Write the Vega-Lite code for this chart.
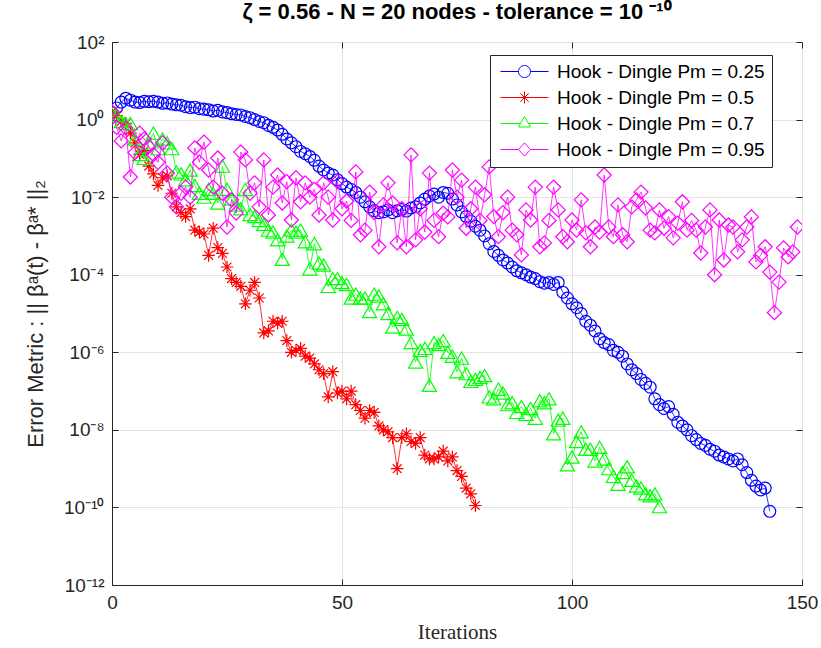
{
"$schema": "https://vega.github.io/schema/vega-lite/v6.json",
"width": 690, "height": 543,
"autosize": {"type": "none"},
"padding": {"left": 112, "top": 42, "right": 19, "bottom": 63},
"background": "white",
"config": {"view": {"stroke": "#262626", "strokeWidth": 1}, "font": "Liberation Sans", "title": {"fontSize": 22, "font": "Liberation Sans", "fontWeight": "bold", "color": "#000000"}},
"title": {"text": "ζ = 0.56 - N = 20 nodes - tolerance = 10 ⁻¹⁰", "fontSize": 22, "fontWeight": "bold", "color": "#000000", "offset": 9, "font": "Liberation Sans"},
"data": {"values": [
{"iteration":0,"error":1.51,"pm":"0.25"},{"iteration":1,"error":2.0,"pm":"0.25"},{"iteration":2,"error":2.82,"pm":"0.25"},{"iteration":3,"error":3.55,"pm":"0.25"},{"iteration":4,"error":3.16,"pm":"0.25"},{"iteration":5,"error":2.82,"pm":"0.25"},{"iteration":6,"error":2.75,"pm":"0.25"},{"iteration":7,"error":2.95,"pm":"0.25"},{"iteration":8,"error":2.88,"pm":"0.25"},{"iteration":9,"error":2.95,"pm":"0.25"},
{"iteration":10,"error":2.82,"pm":"0.25"},{"iteration":11,"error":2.63,"pm":"0.25"},{"iteration":12,"error":2.69,"pm":"0.25"},{"iteration":13,"error":2.51,"pm":"0.25"},{"iteration":14,"error":2.40,"pm":"0.25"},{"iteration":15,"error":2.34,"pm":"0.25"},{"iteration":16,"error":2.14,"pm":"0.25"},{"iteration":17,"error":2.04,"pm":"0.25"},{"iteration":18,"error":2.09,"pm":"0.25"},{"iteration":19,"error":1.91,"pm":"0.25"},
{"iteration":20,"error":1.86,"pm":"0.25"},{"iteration":21,"error":1.78,"pm":"0.25"},{"iteration":22,"error":1.66,"pm":"0.25"},{"iteration":23,"error":1.74,"pm":"0.25"},{"iteration":24,"error":1.58,"pm":"0.25"},{"iteration":25,"error":1.51,"pm":"0.25"},{"iteration":26,"error":1.41,"pm":"0.25"},{"iteration":27,"error":1.35,"pm":"0.25"},{"iteration":28,"error":1.32,"pm":"0.25"},{"iteration":29,"error":1.20,"pm":"0.25"},
{"iteration":30,"error":1.12,"pm":"0.25"},{"iteration":31,"error":1.0,"pm":"0.25"},{"iteration":32,"error":0.891,"pm":"0.25"},{"iteration":33,"error":0.832,"pm":"0.25"},{"iteration":34,"error":0.708,"pm":"0.25"},{"iteration":35,"error":0.631,"pm":"0.25"},{"iteration":36,"error":0.537,"pm":"0.25"},{"iteration":37,"error":0.417,"pm":"0.25"},{"iteration":38,"error":0.316,"pm":"0.25"},{"iteration":39,"error":0.251,"pm":"0.25"},
{"iteration":40,"error":0.2,"pm":"0.25"},{"iteration":41,"error":0.151,"pm":"0.25"},{"iteration":42,"error":0.132,"pm":"0.25"},{"iteration":43,"error":0.112,"pm":"0.25"},{"iteration":44,"error":0.0891,"pm":"0.25"},{"iteration":45,"error":0.0631,"pm":"0.25"},{"iteration":46,"error":0.0501,"pm":"0.25"},{"iteration":47,"error":0.0417,"pm":"0.25"},{"iteration":48,"error":0.0372,"pm":"0.25"},{"iteration":49,"error":0.0282,"pm":"0.25"},
{"iteration":50,"error":0.0224,"pm":"0.25"},{"iteration":51,"error":0.0182,"pm":"0.25"},{"iteration":52,"error":0.0158,"pm":"0.25"},{"iteration":53,"error":0.0132,"pm":"0.25"},{"iteration":54,"error":0.01,"pm":"0.25"},{"iteration":55,"error":0.00759,"pm":"0.25"},{"iteration":56,"error":0.00562,"pm":"0.25"},{"iteration":57,"error":0.00447,"pm":"0.25"},{"iteration":58,"error":0.00398,"pm":"0.25"},{"iteration":59,"error":0.00417,"pm":"0.25"},
{"iteration":60,"error":0.00468,"pm":"0.25"},{"iteration":61,"error":0.00398,"pm":"0.25"},{"iteration":62,"error":0.00447,"pm":"0.25"},{"iteration":63,"error":0.00479,"pm":"0.25"},{"iteration":64,"error":0.00437,"pm":"0.25"},{"iteration":65,"error":0.00525,"pm":"0.25"},{"iteration":66,"error":0.00562,"pm":"0.25"},{"iteration":67,"error":0.00708,"pm":"0.25"},{"iteration":68,"error":0.00891,"pm":"0.25"},{"iteration":69,"error":0.0107,"pm":"0.25"},
{"iteration":70,"error":0.012,"pm":"0.25"},{"iteration":71,"error":0.01,"pm":"0.25"},{"iteration":72,"error":0.0132,"pm":"0.25"},{"iteration":73,"error":0.0126,"pm":"0.25"},{"iteration":74,"error":0.00891,"pm":"0.25"},{"iteration":75,"error":0.00631,"pm":"0.25"},{"iteration":76,"error":0.00417,"pm":"0.25"},{"iteration":77,"error":0.00316,"pm":"0.25"},{"iteration":78,"error":0.0024,"pm":"0.25"},{"iteration":79,"error":0.00178,"pm":"0.25"},
{"iteration":80,"error":0.00141,"pm":"0.25"},{"iteration":81,"error":0.001,"pm":"0.25"},{"iteration":82,"error":6.31e-4,"pm":"0.25"},{"iteration":83,"error":3.98e-4,"pm":"0.25"},{"iteration":84,"error":3.16e-4,"pm":"0.25"},{"iteration":85,"error":2.4e-4,"pm":"0.25"},{"iteration":86,"error":2.0e-4,"pm":"0.25"},{"iteration":87,"error":1.58e-4,"pm":"0.25"},{"iteration":88,"error":1.26e-4,"pm":"0.25"},{"iteration":89,"error":1.12e-4,"pm":"0.25"},
{"iteration":90,"error":1e-4,"pm":"0.25"},{"iteration":91,"error":8.71e-5,"pm":"0.25"},{"iteration":92,"error":7.94e-5,"pm":"0.25"},{"iteration":93,"error":6.61e-5,"pm":"0.25"},{"iteration":94,"error":6.03e-5,"pm":"0.25"},{"iteration":95,"error":6.31e-5,"pm":"0.25"},{"iteration":96,"error":5.62e-5,"pm":"0.25"},{"iteration":97,"error":6.31e-5,"pm":"0.25"},{"iteration":98,"error":3.55e-5,"pm":"0.25"},{"iteration":99,"error":2.51e-5,"pm":"0.25"},
{"iteration":100,"error":1.78e-5,"pm":"0.25"},{"iteration":101,"error":1.41e-5,"pm":"0.25"},{"iteration":102,"error":1e-5,"pm":"0.25"},{"iteration":103,"error":6.31e-6,"pm":"0.25"},{"iteration":104,"error":5.01e-6,"pm":"0.25"},{"iteration":105,"error":3.55e-6,"pm":"0.25"},{"iteration":106,"error":2.24e-6,"pm":"0.25"},{"iteration":107,"error":1.78e-6,"pm":"0.25"},{"iteration":108,"error":1.58e-6,"pm":"0.25"},{"iteration":109,"error":1.12e-6,"pm":"0.25"},
{"iteration":110,"error":1e-6,"pm":"0.25"},{"iteration":111,"error":7.94e-7,"pm":"0.25"},{"iteration":112,"error":5.01e-7,"pm":"0.25"},{"iteration":113,"error":3.55e-7,"pm":"0.25"},{"iteration":114,"error":2.82e-7,"pm":"0.25"},{"iteration":115,"error":2.0e-7,"pm":"0.25"},{"iteration":116,"error":1.58e-7,"pm":"0.25"},{"iteration":117,"error":1.26e-7,"pm":"0.25"},{"iteration":118,"error":6.31e-8,"pm":"0.25"},{"iteration":119,"error":4.47e-8,"pm":"0.25"},
{"iteration":120,"error":3.55e-8,"pm":"0.25"},{"iteration":121,"error":3.98e-8,"pm":"0.25"},{"iteration":122,"error":2.51e-8,"pm":"0.25"},{"iteration":123,"error":1.58e-8,"pm":"0.25"},{"iteration":124,"error":1.26e-8,"pm":"0.25"},{"iteration":125,"error":1e-8,"pm":"0.25"},{"iteration":126,"error":7.08e-9,"pm":"0.25"},{"iteration":127,"error":5.62e-9,"pm":"0.25"},{"iteration":128,"error":4.47e-9,"pm":"0.25"},{"iteration":129,"error":3.98e-9,"pm":"0.25"},
{"iteration":130,"error":3.16e-9,"pm":"0.25"},{"iteration":131,"error":2.82e-9,"pm":"0.25"},{"iteration":132,"error":2.24e-9,"pm":"0.25"},{"iteration":133,"error":2.0e-9,"pm":"0.25"},{"iteration":134,"error":1.78e-9,"pm":"0.25"},{"iteration":135,"error":1.58e-9,"pm":"0.25"},{"iteration":136,"error":1.78e-9,"pm":"0.25"},{"iteration":137,"error":1.26e-9,"pm":"0.25"},{"iteration":138,"error":7.94e-10,"pm":"0.25"},{"iteration":139,"error":5.01e-10,"pm":"0.25"},
{"iteration":140,"error":3.55e-10,"pm":"0.25"},{"iteration":141,"error":2.82e-10,"pm":"0.25"},{"iteration":142,"error":3.16e-10,"pm":"0.25"},{"iteration":143,"error":7.94e-11,"pm":"0.25"},
{"iteration":0,"error":1.58,"pm":"0.5"},{"iteration":1,"error":1.26,"pm":"0.5"},{"iteration":2,"error":0.891,"pm":"0.5"},{"iteration":3,"error":0.794,"pm":"0.5"},{"iteration":4,"error":0.447,"pm":"0.5"},{"iteration":5,"error":0.251,"pm":"0.5"},{"iteration":6,"error":0.126,"pm":"0.5"},{"iteration":7,"error":0.158,"pm":"0.5"},{"iteration":8,"error":0.0631,"pm":"0.5"},{"iteration":9,"error":0.0398,"pm":"0.5"},
{"iteration":10,"error":0.02,"pm":"0.5"},{"iteration":11,"error":0.0316,"pm":"0.5"},{"iteration":12,"error":0.0355,"pm":"0.5"},{"iteration":13,"error":0.0126,"pm":"0.5"},{"iteration":14,"error":0.00562,"pm":"0.5"},{"iteration":15,"error":0.00398,"pm":"0.5"},{"iteration":16,"error":0.00316,"pm":"0.5"},{"iteration":17,"error":0.00501,"pm":"0.5"},{"iteration":18,"error":0.00141,"pm":"0.5"},{"iteration":19,"error":0.00126,"pm":"0.5"},
{"iteration":20,"error":0.00112,"pm":"0.5"},{"iteration":21,"error":3.16e-4,"pm":"0.5"},{"iteration":22,"error":0.00158,"pm":"0.5"},{"iteration":23,"error":5.01e-4,"pm":"0.5"},{"iteration":24,"error":3.55e-4,"pm":"0.5"},{"iteration":25,"error":1.58e-4,"pm":"0.5"},{"iteration":26,"error":7.94e-5,"pm":"0.5"},{"iteration":27,"error":6.31e-5,"pm":"0.5"},{"iteration":28,"error":5.01e-5,"pm":"0.5"},{"iteration":29,"error":1.78e-5,"pm":"0.5"},
{"iteration":30,"error":3.98e-5,"pm":"0.5"},{"iteration":31,"error":6.31e-5,"pm":"0.5"},{"iteration":32,"error":2.51e-5,"pm":"0.5"},{"iteration":33,"error":3.16e-6,"pm":"0.5"},{"iteration":34,"error":3.55e-6,"pm":"0.5"},{"iteration":35,"error":6.31e-6,"pm":"0.5"},{"iteration":36,"error":5.62e-6,"pm":"0.5"},{"iteration":37,"error":6.31e-6,"pm":"0.5"},{"iteration":38,"error":2.0e-6,"pm":"0.5"},{"iteration":39,"error":1e-6,"pm":"0.5"},
{"iteration":40,"error":1.12e-6,"pm":"0.5"},{"iteration":41,"error":1.26e-6,"pm":"0.5"},{"iteration":42,"error":7.94e-7,"pm":"0.5"},{"iteration":43,"error":7.08e-7,"pm":"0.5"},{"iteration":44,"error":5.01e-7,"pm":"0.5"},{"iteration":45,"error":3.55e-7,"pm":"0.5"},{"iteration":46,"error":2.82e-7,"pm":"0.5"},{"iteration":47,"error":7.08e-8,"pm":"0.5"},{"iteration":48,"error":3.16e-7,"pm":"0.5"},{"iteration":49,"error":8.91e-8,"pm":"0.5"},
{"iteration":50,"error":1e-7,"pm":"0.5"},{"iteration":51,"error":6.31e-8,"pm":"0.5"},{"iteration":52,"error":1e-7,"pm":"0.5"},{"iteration":53,"error":4.47e-8,"pm":"0.5"},{"iteration":54,"error":3.16e-8,"pm":"0.5"},{"iteration":55,"error":2.0e-8,"pm":"0.5"},{"iteration":56,"error":3.16e-8,"pm":"0.5"},{"iteration":57,"error":2.82e-8,"pm":"0.5"},{"iteration":58,"error":1.26e-8,"pm":"0.5"},{"iteration":59,"error":1e-8,"pm":"0.5"},
{"iteration":60,"error":8.91e-9,"pm":"0.5"},{"iteration":61,"error":6.31e-9,"pm":"0.5"},{"iteration":62,"error":1e-9,"pm":"0.5"},{"iteration":63,"error":6.31e-9,"pm":"0.5"},{"iteration":64,"error":7.94e-9,"pm":"0.5"},{"iteration":65,"error":5.01e-9,"pm":"0.5"},{"iteration":66,"error":4.47e-9,"pm":"0.5"},{"iteration":67,"error":6.31e-9,"pm":"0.5"},{"iteration":68,"error":2.24e-9,"pm":"0.5"},{"iteration":69,"error":1.78e-9,"pm":"0.5"},
{"iteration":70,"error":1.78e-9,"pm":"0.5"},{"iteration":71,"error":2.0e-9,"pm":"0.5"},{"iteration":72,"error":2.82e-9,"pm":"0.5"},{"iteration":73,"error":1.58e-9,"pm":"0.5"},{"iteration":74,"error":2.0e-9,"pm":"0.5"},{"iteration":75,"error":8.91e-10,"pm":"0.5"},{"iteration":76,"error":6.31e-10,"pm":"0.5"},{"iteration":77,"error":3.16e-10,"pm":"0.5"},{"iteration":78,"error":2.24e-10,"pm":"0.5"},{"iteration":79,"error":1.12e-10,"pm":"0.5"},
{"iteration":0,"error":1.41,"pm":"0.7"},{"iteration":1,"error":1.26,"pm":"0.7"},{"iteration":2,"error":0.891,"pm":"0.7"},{"iteration":3,"error":0.794,"pm":"0.7"},{"iteration":4,"error":0.794,"pm":"0.7"},{"iteration":5,"error":0.316,"pm":"0.7"},{"iteration":6,"error":0.126,"pm":"0.7"},{"iteration":7,"error":0.1,"pm":"0.7"},{"iteration":8,"error":0.251,"pm":"0.7"},{"iteration":9,"error":0.447,"pm":"0.7"},
{"iteration":10,"error":0.178,"pm":"0.7"},{"iteration":11,"error":0.316,"pm":"0.7"},{"iteration":12,"error":0.251,"pm":"0.7"},{"iteration":13,"error":0.178,"pm":"0.7"},{"iteration":14,"error":0.0447,"pm":"0.7"},{"iteration":15,"error":0.0398,"pm":"0.7"},{"iteration":16,"error":0.0282,"pm":"0.7"},{"iteration":17,"error":0.0501,"pm":"0.7"},{"iteration":18,"error":0.02,"pm":"0.7"},{"iteration":19,"error":0.0126,"pm":"0.7"},
{"iteration":20,"error":0.01,"pm":"0.7"},{"iteration":21,"error":0.0158,"pm":"0.7"},{"iteration":22,"error":0.0126,"pm":"0.7"},{"iteration":23,"error":0.00708,"pm":"0.7"},{"iteration":24,"error":0.0631,"pm":"0.7"},{"iteration":25,"error":0.0158,"pm":"0.7"},{"iteration":26,"error":0.00891,"pm":"0.7"},{"iteration":27,"error":0.00631,"pm":"0.7"},{"iteration":28,"error":0.00501,"pm":"0.7"},{"iteration":29,"error":0.0158,"pm":"0.7"},
{"iteration":30,"error":0.00355,"pm":"0.7"},{"iteration":31,"error":0.00316,"pm":"0.7"},{"iteration":32,"error":0.00251,"pm":"0.7"},{"iteration":33,"error":0.002,"pm":"0.7"},{"iteration":34,"error":0.00141,"pm":"0.7"},{"iteration":35,"error":0.00126,"pm":"0.7"},{"iteration":36,"error":7.94e-4,"pm":"0.7"},{"iteration":37,"error":2.51e-4,"pm":"0.7"},{"iteration":38,"error":1e-3,"pm":"0.7"},{"iteration":39,"error":0.00141,"pm":"0.7"},
{"iteration":40,"error":0.00126,"pm":"0.7"},{"iteration":41,"error":0.00141,"pm":"0.7"},{"iteration":42,"error":7.08e-4,"pm":"0.7"},{"iteration":43,"error":1.41e-4,"pm":"0.7"},{"iteration":44,"error":6.31e-4,"pm":"0.7"},{"iteration":45,"error":2.0e-4,"pm":"0.7"},{"iteration":46,"error":1.78e-4,"pm":"0.7"},{"iteration":47,"error":5.01e-5,"pm":"0.7"},{"iteration":48,"error":7.94e-5,"pm":"0.7"},{"iteration":49,"error":7.94e-5,"pm":"0.7"},
{"iteration":50,"error":6.31e-5,"pm":"0.7"},{"iteration":51,"error":5.62e-5,"pm":"0.7"},{"iteration":52,"error":2.51e-5,"pm":"0.7"},{"iteration":53,"error":3.16e-5,"pm":"0.7"},{"iteration":54,"error":2.51e-5,"pm":"0.7"},{"iteration":55,"error":2.51e-5,"pm":"0.7"},{"iteration":56,"error":1.12e-5,"pm":"0.7"},{"iteration":57,"error":3.16e-5,"pm":"0.7"},{"iteration":58,"error":2.82e-5,"pm":"0.7"},{"iteration":59,"error":1.78e-5,"pm":"0.7"},
{"iteration":60,"error":1e-5,"pm":"0.7"},{"iteration":61,"error":4.47e-6,"pm":"0.7"},{"iteration":62,"error":7.94e-6,"pm":"0.7"},{"iteration":63,"error":7.08e-6,"pm":"0.7"},{"iteration":64,"error":3.98e-6,"pm":"0.7"},{"iteration":65,"error":1.78e-6,"pm":"0.7"},{"iteration":66,"error":5.62e-7,"pm":"0.7"},{"iteration":67,"error":1.12e-6,"pm":"0.7"},{"iteration":68,"error":1.26e-6,"pm":"0.7"},{"iteration":69,"error":1.41e-7,"pm":"0.7"},
{"iteration":70,"error":1.78e-6,"pm":"0.7"},{"iteration":71,"error":1.58e-6,"pm":"0.7"},{"iteration":72,"error":2.0e-6,"pm":"0.7"},{"iteration":73,"error":1e-6,"pm":"0.7"},{"iteration":74,"error":7.94e-7,"pm":"0.7"},{"iteration":75,"error":3.16e-7,"pm":"0.7"},{"iteration":76,"error":7.08e-7,"pm":"0.7"},{"iteration":77,"error":2.82e-7,"pm":"0.7"},{"iteration":78,"error":1.78e-7,"pm":"0.7"},{"iteration":79,"error":2.0e-7,"pm":"0.7"},
{"iteration":80,"error":2.24e-7,"pm":"0.7"},{"iteration":81,"error":2.51e-7,"pm":"0.7"},{"iteration":82,"error":7.08e-8,"pm":"0.7"},{"iteration":83,"error":6.31e-8,"pm":"0.7"},{"iteration":84,"error":1.12e-7,"pm":"0.7"},{"iteration":85,"error":8.91e-8,"pm":"0.7"},{"iteration":86,"error":4.47e-8,"pm":"0.7"},{"iteration":87,"error":5.01e-8,"pm":"0.7"},{"iteration":88,"error":2.82e-8,"pm":"0.7"},{"iteration":89,"error":3.98e-8,"pm":"0.7"},
{"iteration":90,"error":2.51e-8,"pm":"0.7"},{"iteration":91,"error":3.55e-8,"pm":"0.7"},{"iteration":92,"error":2.0e-8,"pm":"0.7"},{"iteration":93,"error":5.62e-8,"pm":"0.7"},{"iteration":94,"error":5.01e-8,"pm":"0.7"},{"iteration":95,"error":6.31e-8,"pm":"0.7"},{"iteration":96,"error":7.94e-9,"pm":"0.7"},{"iteration":97,"error":1.78e-8,"pm":"0.7"},{"iteration":98,"error":2.0e-8,"pm":"0.7"},{"iteration":99,"error":1.26e-9,"pm":"0.7"},
{"iteration":100,"error":2.0e-9,"pm":"0.7"},{"iteration":101,"error":5.01e-9,"pm":"0.7"},{"iteration":102,"error":8.91e-9,"pm":"0.7"},{"iteration":103,"error":3.16e-9,"pm":"0.7"},{"iteration":104,"error":3.16e-9,"pm":"0.7"},{"iteration":105,"error":1.58e-9,"pm":"0.7"},{"iteration":106,"error":3.55e-9,"pm":"0.7"},{"iteration":107,"error":1.78e-9,"pm":"0.7"},{"iteration":108,"error":1e-9,"pm":"0.7"},{"iteration":109,"error":6.31e-10,"pm":"0.7"},
{"iteration":110,"error":3.98e-10,"pm":"0.7"},{"iteration":111,"error":7.94e-10,"pm":"0.7"},{"iteration":112,"error":1.12e-9,"pm":"0.7"},{"iteration":113,"error":5.01e-10,"pm":"0.7"},{"iteration":114,"error":3.55e-10,"pm":"0.7"},{"iteration":115,"error":3.16e-10,"pm":"0.7"},{"iteration":116,"error":2.24e-10,"pm":"0.7"},{"iteration":117,"error":2.0e-10,"pm":"0.7"},{"iteration":118,"error":2.24e-10,"pm":"0.7"},{"iteration":119,"error":1.05e-10,"pm":"0.7"},
{"iteration":0,"error":1.58,"pm":"0.95"},{"iteration":1,"error":0.631,"pm":"0.95"},{"iteration":2,"error":0.282,"pm":"0.95"},{"iteration":3,"error":0.603,"pm":"0.95"},{"iteration":4,"error":0.0331,"pm":"0.95"},{"iteration":5,"error":0.141,"pm":"0.95"},{"iteration":6,"error":0.447,"pm":"0.95"},{"iteration":7,"error":0.316,"pm":"0.95"},{"iteration":8,"error":0.2,"pm":"0.95"},{"iteration":9,"error":0.126,"pm":"0.95"},
{"iteration":10,"error":0.0794,"pm":"0.95"},{"iteration":11,"error":0.251,"pm":"0.95"},{"iteration":12,"error":0.0417,"pm":"0.95"},{"iteration":13,"error":0.01,"pm":"0.95"},{"iteration":14,"error":0.00562,"pm":"0.95"},{"iteration":15,"error":0.0126,"pm":"0.95"},{"iteration":16,"error":0.0182,"pm":"0.95"},{"iteration":17,"error":0.01,"pm":"0.95"},{"iteration":18,"error":0.186,"pm":"0.95"},{"iteration":19,"error":0.0794,"pm":"0.95"},
{"iteration":20,"error":0.263,"pm":"0.95"},{"iteration":21,"error":0.0501,"pm":"0.95"},{"iteration":22,"error":0.0182,"pm":"0.95"},{"iteration":23,"error":0.102,"pm":"0.95"},{"iteration":24,"error":0.0126,"pm":"0.95"},{"iteration":25,"error":0.0017,"pm":"0.95"},{"iteration":26,"error":0.00851,"pm":"0.95"},{"iteration":27,"error":0.00389,"pm":"0.95"},{"iteration":28,"error":0.145,"pm":"0.95"},{"iteration":29,"error":0.0912,"pm":"0.95"},
{"iteration":30,"error":0.0126,"pm":"0.95"},{"iteration":31,"error":0.0234,"pm":"0.95"},{"iteration":32,"error":0.00562,"pm":"0.95"},{"iteration":33,"error":0.0912,"pm":"0.95"},{"iteration":34,"error":0.00347,"pm":"0.95"},{"iteration":35,"error":0.0182,"pm":"0.95"},{"iteration":36,"error":0.0372,"pm":"0.95"},{"iteration":37,"error":0.00708,"pm":"0.95"},{"iteration":38,"error":0.0251,"pm":"0.95"},{"iteration":39,"error":0.00257,"pm":"0.95"},
{"iteration":40,"error":0.0316,"pm":"0.95"},{"iteration":41,"error":0.00759,"pm":"0.95"},{"iteration":42,"error":0.0234,"pm":"0.95"},{"iteration":43,"error":0.01,"pm":"0.95"},{"iteration":44,"error":0.0158,"pm":"0.95"},{"iteration":45,"error":0.00347,"pm":"0.95"},{"iteration":46,"error":0.0234,"pm":"0.95"},{"iteration":47,"error":0.01,"pm":"0.95"},{"iteration":48,"error":0.00257,"pm":"0.95"},{"iteration":49,"error":0.0251,"pm":"0.95"},
{"iteration":50,"error":0.00501,"pm":"0.95"},{"iteration":51,"error":0.00794,"pm":"0.95"},{"iteration":52,"error":0.00251,"pm":"0.95"},{"iteration":53,"error":0.0447,"pm":"0.95"},{"iteration":54,"error":0.00107,"pm":"0.95"},{"iteration":55,"error":0.00141,"pm":"0.95"},{"iteration":56,"error":0.0135,"pm":"0.95"},{"iteration":57,"error":0.00398,"pm":"0.95"},{"iteration":58,"error":5.25e-4,"pm":"0.95"},{"iteration":59,"error":0.00631,"pm":"0.95"},
{"iteration":60,"error":0.0234,"pm":"0.95"},{"iteration":61,"error":0.00708,"pm":"0.95"},{"iteration":62,"error":6.61e-4,"pm":"0.95"},{"iteration":63,"error":0.00501,"pm":"0.95"},{"iteration":64,"error":5.25e-4,"pm":"0.95"},{"iteration":65,"error":0.123,"pm":"0.95"},{"iteration":66,"error":7.94e-4,"pm":"0.95"},{"iteration":67,"error":0.00501,"pm":"0.95"},{"iteration":68,"error":0.00126,"pm":"0.95"},{"iteration":69,"error":0.0417,"pm":"0.95"},
{"iteration":70,"error":0.00251,"pm":"0.95"},{"iteration":71,"error":9.55e-4,"pm":"0.95"},{"iteration":72,"error":0.00389,"pm":"0.95"},{"iteration":73,"error":0.00309,"pm":"0.95"},{"iteration":74,"error":0.0501,"pm":"0.95"},{"iteration":75,"error":0.01,"pm":"0.95"},{"iteration":76,"error":0.0275,"pm":"0.95"},{"iteration":77,"error":0.00158,"pm":"0.95"},{"iteration":78,"error":0.00501,"pm":"0.95"},{"iteration":79,"error":0.0182,"pm":"0.95"},
{"iteration":80,"error":0.00251,"pm":"0.95"},{"iteration":81,"error":0.0115,"pm":"0.95"},{"iteration":82,"error":0.0603,"pm":"0.95"},{"iteration":83,"error":0.00316,"pm":"0.95"},{"iteration":84,"error":9.55e-4,"pm":"0.95"},{"iteration":85,"error":0.00398,"pm":"0.95"},{"iteration":86,"error":0.01,"pm":"0.95"},{"iteration":87,"error":0.00141,"pm":"0.95"},{"iteration":88,"error":0.00107,"pm":"0.95"},{"iteration":89,"error":3.24e-4,"pm":"0.95"},
{"iteration":90,"error":0.00468,"pm":"0.95"},{"iteration":91,"error":0.00257,"pm":"0.95"},{"iteration":92,"error":0.0182,"pm":"0.95"},{"iteration":93,"error":5.25e-4,"pm":"0.95"},{"iteration":94,"error":6.61e-4,"pm":"0.95"},{"iteration":95,"error":0.00251,"pm":"0.95"},{"iteration":96,"error":0.0182,"pm":"0.95"},{"iteration":97,"error":0.00468,"pm":"0.95"},{"iteration":98,"error":9.55e-4,"pm":"0.95"},{"iteration":99,"error":7.08e-4,"pm":"0.95"},
{"iteration":100,"error":0.00257,"pm":"0.95"},{"iteration":101,"error":0.00141,"pm":"0.95"},{"iteration":102,"error":0.00851,"pm":"0.95"},{"iteration":103,"error":0.0012,"pm":"0.95"},{"iteration":104,"error":5.25e-4,"pm":"0.95"},{"iteration":105,"error":0.0017,"pm":"0.95"},{"iteration":106,"error":0.00126,"pm":"0.95"},{"iteration":107,"error":0.0372,"pm":"0.95"},{"iteration":108,"error":0.0017,"pm":"0.95"},{"iteration":109,"error":9.55e-4,"pm":"0.95"},
{"iteration":110,"error":0.00631,"pm":"0.95"},{"iteration":111,"error":0.00107,"pm":"0.95"},{"iteration":112,"error":7.08e-4,"pm":"0.95"},{"iteration":113,"error":0.00562,"pm":"0.95"},{"iteration":114,"error":0.00851,"pm":"0.95"},{"iteration":115,"error":0.0135,"pm":"0.95"},{"iteration":116,"error":0.00525,"pm":"0.95"},{"iteration":117,"error":0.00141,"pm":"0.95"},{"iteration":118,"error":0.0012,"pm":"0.95"},{"iteration":119,"error":0.00468,"pm":"0.95"},
{"iteration":120,"error":0.00158,"pm":"0.95"},{"iteration":121,"error":0.00316,"pm":"0.95"},{"iteration":122,"error":8.91e-4,"pm":"0.95"},{"iteration":123,"error":0.00214,"pm":"0.95"},{"iteration":124,"error":0.00759,"pm":"0.95"},{"iteration":125,"error":0.00141,"pm":"0.95"},{"iteration":126,"error":0.00251,"pm":"0.95"},{"iteration":127,"error":0.00141,"pm":"0.95"},{"iteration":128,"error":3.63e-4,"pm":"0.95"},{"iteration":129,"error":0.0017,"pm":"0.95"},
{"iteration":130,"error":0.00468,"pm":"0.95"},{"iteration":131,"error":1e-4,"pm":"0.95"},{"iteration":132,"error":0.00257,"pm":"0.95"},{"iteration":133,"error":2.4e-4,"pm":"0.95"},{"iteration":134,"error":0.00191,"pm":"0.95"},{"iteration":135,"error":0.0017,"pm":"0.95"},{"iteration":136,"error":3.89e-4,"pm":"0.95"},{"iteration":137,"error":7.94e-4,"pm":"0.95"},{"iteration":138,"error":0.0017,"pm":"0.95"},{"iteration":139,"error":0.00309,"pm":"0.95"},
{"iteration":140,"error":2.14e-4,"pm":"0.95"},{"iteration":141,"error":3.16e-4,"pm":"0.95"},{"iteration":142,"error":5.25e-4,"pm":"0.95"},{"iteration":143,"error":1.17e-4,"pm":"0.95"},{"iteration":144,"error":1.05e-5,"pm":"0.95"},{"iteration":145,"error":6.46e-5,"pm":"0.95"},{"iteration":146,"error":4.9e-4,"pm":"0.95"},{"iteration":147,"error":2.88e-4,"pm":"0.95"},{"iteration":148,"error":3.89e-4,"pm":"0.95"},{"iteration":149,"error":0.0017,"pm":"0.95"}
]},
"layer": [
 {
  "encoding": {
    "x": {"field": "iteration", "type": "quantitative",
          "scale": {"domain": [0, 150], "nice": false, "zero": false},
          "axis": {"values": [0, 50, 100, 150], "title": "Iterations", "titleFont": "Liberation Serif", "titleFontSize": 21, "titleFontWeight": "normal", "titleColor": "#262626", "titlePadding": 9,
                   "labelFont": "Liberation Sans", "labelFontSize": 19, "labelColor": "#262626", "labelPadding": 14, "labelFlush": false,
                   "grid": true, "gridColor": "#e3e3e3", "gridWidth": 1, "domainColor": "#262626", "tickColor": "#262626", "tickSize": -6}},
    "y": {"field": "error", "type": "quantitative",
          "scale": {"type": "log", "domain": [1e-12, 100], "nice": false},
          "axis": {"values": [1e-12, 1e-10, 1e-8, 1e-6, 1e-4, 0.01, 1, 100],
                   "labelExpr": "datum.value >= 99 ? '10²' : datum.value >= 0.99 ? '10⁰' : datum.value >= 0.0099 ? '10⁻²' : datum.value >= 9.9e-5 ? '10⁻⁴' : datum.value >= 9.9e-7 ? '10⁻⁶' : datum.value >= 9.9e-9 ? '10⁻⁸' : datum.value >= 9.9e-11 ? '10⁻¹⁰' : '10⁻¹²'",
                   "title": "Error Metric : || βᵃ(t) - βᵃ* ||₂", "titleFont": "Liberation Sans", "titleFontSize": 22, "titleFontWeight": "normal", "titleColor": "#262626", "titlePadding": 16,
                   "labelFont": "Liberation Sans", "labelFontSize": 19, "labelColor": "#262626", "labelPadding": 14, "labelFlush": false,
                   "grid": true, "gridColor": "#e3e3e3", "gridWidth": 1, "domainColor": "#262626", "tickColor": "#262626", "tickSize": -6}},
    "color": {"field": "pm", "type": "nominal",
              "scale": {"domain": ["0.25", "0.5", "0.7", "0.95"], "range": ["#0000ff", "#ff0000", "#00ff00", "#ff00ff"]},
              "legend": {"orient": "none", "legendX": 378, "legendY": 13, "title": null, "strokeColor": "#262626", "fillColor": "white", "padding": 7,
                         "labelFont": "Liberation Sans", "labelFontSize": 19, "labelColor": "#000000", "labelLimit": 400, "labelExpr": "'Hook - Dingle Pm = ' + datum.label + '  '",
                         "symbolSize": 144, "symbolStrokeWidth": 1, "rowPadding": 6, "symbolOffset": 18, "labelOffset": 23,
                         "encode": {"symbols": {"update": {
                            "fill": {"value": "transparent"},
                            "shape": {"signal": "datum.value === '0.25' ? 'M-4,0L-1,0M1,0L4,0M-1,0A1,1 0 1,1 1,0A1,1 0 1,1 -1,0' : datum.value === '0.5' ? 'M-4,0L4,0M0,-1L0,1M-0.7,-0.7L0.7,0.7M-0.7,0.7L0.7,-0.7' : datum.value === '0.7' ? 'M-4,0L-0.6,0M0.6,0L4,0M0,-1.15L-1,0.58L1,0.58Z' : 'M-4,0L-1,0M1,0L4,0M-1,0L0,-1.1L1,0L0,1.1Z'"}
                         }}}}}
  },
  "layer": [
    {"transform": [{"filter": "datum.pm === '0.25'"}], "mark": {"type": "line", "strokeWidth": 0.8, "clip": true, "point": {"shape": "circle", "filled": false, "size": 140, "strokeWidth": 1.2}}},
    {"transform": [{"filter": "datum.pm === '0.5'"}], "mark": {"type": "line", "strokeWidth": 0.8, "clip": true, "point": {"shape": "M0,-1L0,1M-1,0L1,0M-0.7,-0.7L0.7,0.7M-0.7,0.7L0.7,-0.7", "filled": false, "size": 160, "strokeWidth": 1.2}}},
    {"transform": [{"filter": "datum.pm === '0.7'"}], "mark": {"type": "line", "strokeWidth": 0.8, "clip": true, "point": {"shape": "triangle-up", "filled": false, "size": 200, "strokeWidth": 1.2}}},
    {"transform": [{"filter": "datum.pm === '0.95'"}], "mark": {"type": "line", "strokeWidth": 0.8, "clip": true, "point": {"shape": "diamond", "filled": false, "size": 200, "strokeWidth": 1.2}}}
  ]
 },
 {
  "mark": {"type": "point", "opacity": 0},
  "encoding": {
    "x": {"field": "iteration", "type": "quantitative", "scale": {"domain": [0, 150], "nice": false, "zero": false},
          "axis": {"orient": "top", "values": [0, 50, 100, 150], "labels": false, "title": null, "grid": false, "domain": false, "tickColor": "#262626", "tickSize": -6}},
    "y": {"field": "error", "type": "quantitative", "scale": {"type": "log", "domain": [1e-12, 100], "nice": false},
          "axis": {"orient": "right", "values": [1e-12, 1e-10, 1e-8, 1e-6, 1e-4, 0.01, 1, 100], "labels": false, "title": null, "grid": false, "domain": false, "tickColor": "#262626", "tickSize": -6}}
  }
 }
],
"resolve": {"axis": {"x": "independent", "y": "independent"}}
}
